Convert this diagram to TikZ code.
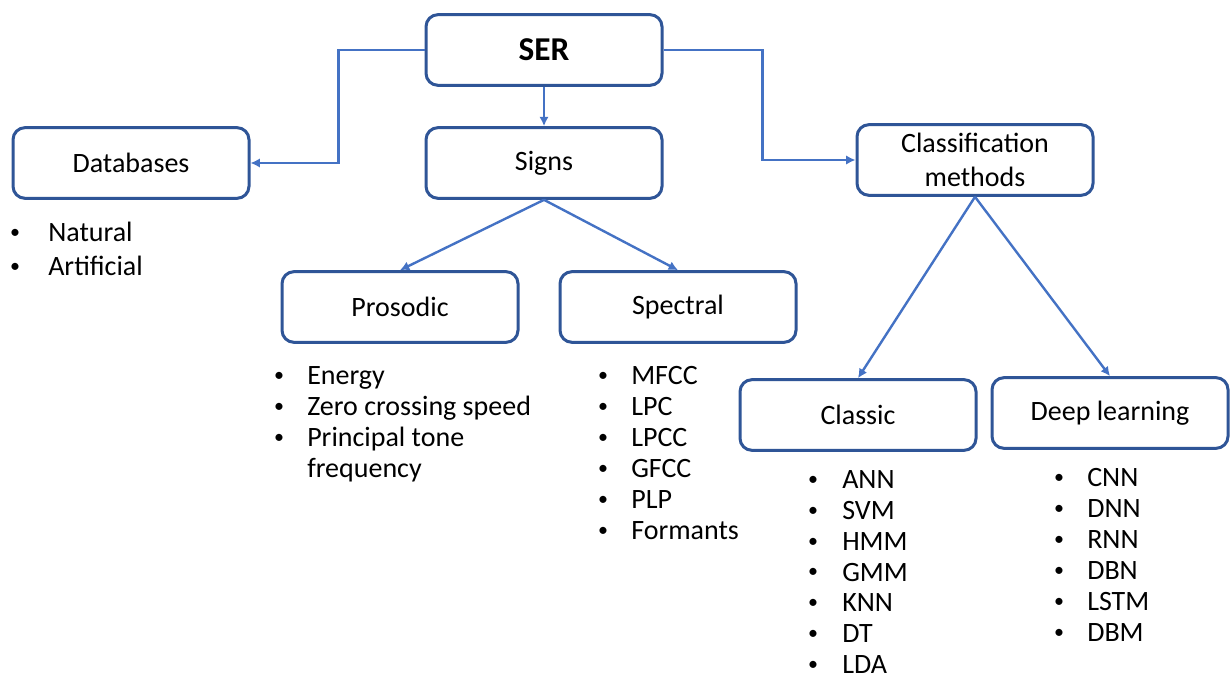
\documentclass[tikz,border=0pt]{standalone}
\usepackage{fontspec}
\setmainfont{Carlito}
\usetikzlibrary{positioning, arrows.meta}

\definecolor{boxblue}{HTML}{2F5597}
\definecolor{linkblue}{HTML}{4472C4}

\tikzset{
  catbox/.style={draw=boxblue, line width=2.25pt, rounded corners=9pt, fill=white,
    minimum width=177pt, minimum height=53pt, align=center,
    font=\fontsize{21}{25.5}\selectfont},
  link/.style={draw=linkblue, line width=1.8pt, -{Latex[length=7pt,width=7pt]}},
  item/.style={anchor=west, inner sep=0pt, text height=15pt, text depth=2pt,
    font=\fontsize{21}{25}\selectfont},
  dot/.style={inner sep=0pt, anchor=center, font=\fontsize{15}{15}\selectfont},
}

\begin{document}
\begin{tikzpicture}[x=0.75pt, y=-0.75pt]
  \useasboundingbox (0,0) rectangle (1230,680);

  % main boxes
  \node[catbox, font=\fontsize{25}{28}\bfseries] (ser) at (544,50) {SER};
  \node[catbox] (signs) at (544,163) {Signs};
  \node[catbox] (db) at (131,163) {Databases};
  \node[catbox] (clm) at (975,160) {Classification\\methods};
  \node[catbox] (pros) at (400,307) {Prosodic};
  \node[catbox] (spec) at (678,307) {Spectral};
  \node[catbox] (classic) at (858,415) {Classic};
  \node[catbox] (deep) at (1110,413) {Deep learning};

  % connectors
  \draw[link] (ser.west) -- ++(-86,0) |- (db.east);
  \draw[link] (ser.south) -- (signs.north);
  \draw[link] (ser.east) -- ++(99,0) |- (clm.west);
  \draw[link] (signs.south) -- (pros.north);
  \draw[link] (signs.south) -- (spec.north);
  \draw[link] (clm.south) -- (classic.north);
  \draw[link] (clm.south) -- (deep.north);

  % lists
  \foreach \t [count=\k from 0] in {Natural, Artificial} {
    \node[dot] (dbdot\k) at (15,234+34*\k) {\textbullet};
    \node[item] (dbit\k) at (48,233+34*\k) {\t};
  }
  \foreach \t [count=\k from 0] in {Energy, Zero crossing speed, Principal tone} {
    \node[dot] (prdot\k) at (279,377+31*\k) {\textbullet};
    \node[item] (prit\k) at (307,376+31*\k) {\t};
  }
  \node[item] (prit3) at (307,469) {frequency};
  \foreach \t [count=\k from 0] in {MFCC, LPC, LPCC, GFCC, PLP, Formants} {
    \node[dot] (spdot\k) at (603,377+31*\k) {\textbullet};
    \node[item] (spit\k) at (631,376+31*\k) {\t};
  }
  \foreach \t [count=\k from 0] in {ANN, SVM, HMM, GMM, KNN, DT, LDA} {
    \node[dot] (cldot\k) at (813,481+30.8*\k) {\textbullet};
    \node[item] (clit\k) at (842,480+30.8*\k) {\t};
  }
  \foreach \t [count=\k from 0] in {CNN, DNN, RNN, DBN, LSTM, DBM} {
    \node[dot] (dpdot\k) at (1059,479+31*\k) {\textbullet};
    \node[item] (dpit\k) at (1087,478+31*\k) {\t};
  }
\end{tikzpicture}
\end{document}
